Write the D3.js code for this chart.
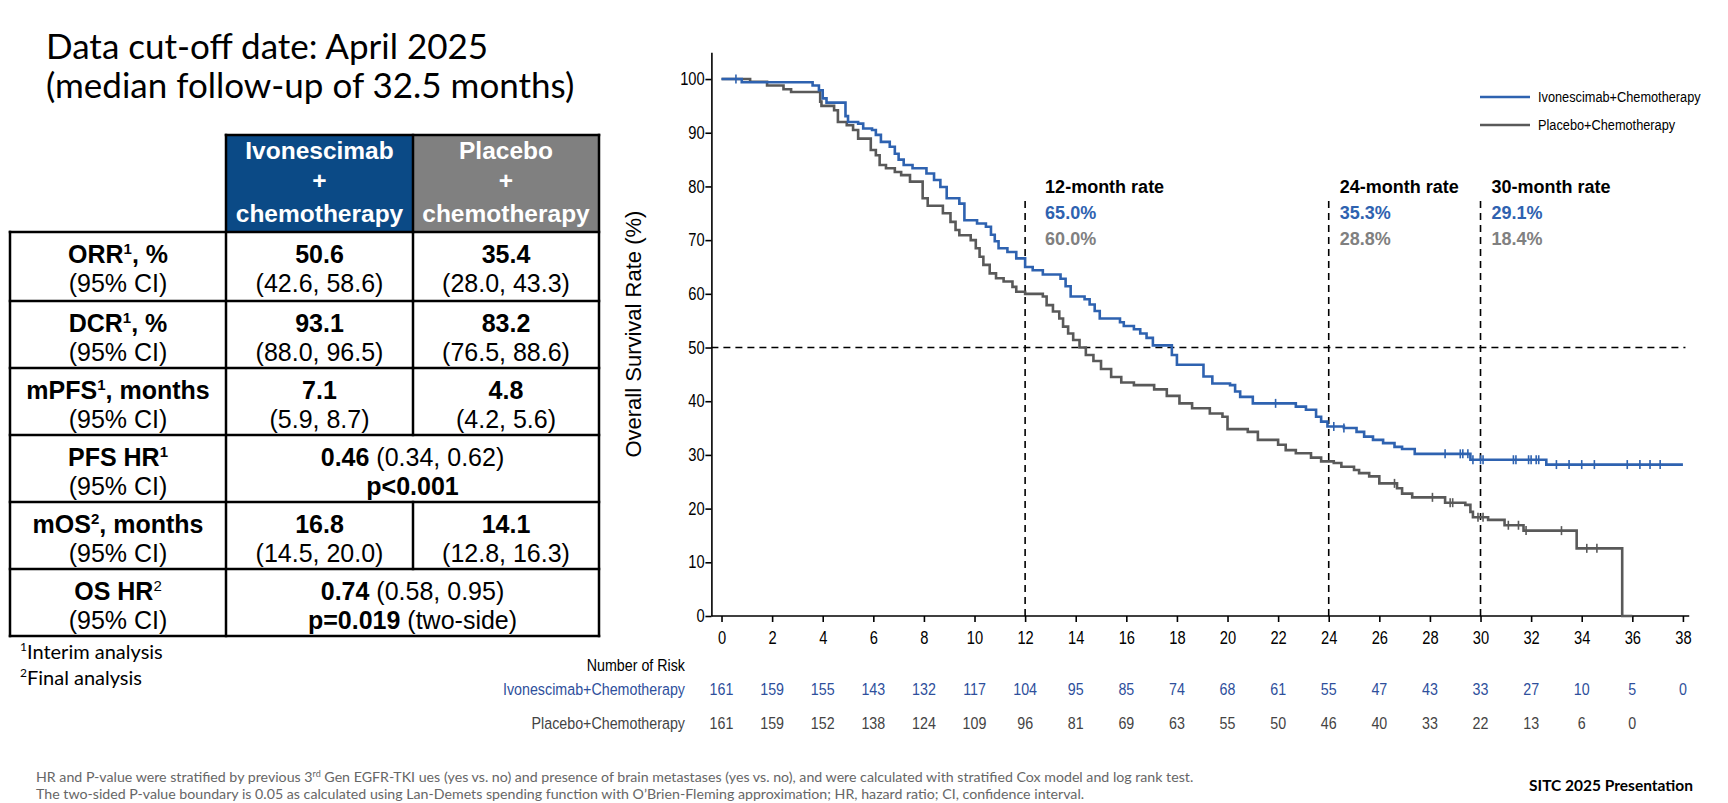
<!DOCTYPE html>
<html>
<head>
<meta charset="utf-8">
<script src="https://cdn.jsdelivr.net/npm/d3@7"></script>
<style>
body { margin: 0; background: #fff; }
svg { display: block; }
</style>
</head>
<body>
<div id="chart"></div>
<script>
// ---- DATA ----
// Kaplan-Meier steps [month, survival %]
const ivoCurve = [[0,100],[0.8,99.4],[3.6,98.8],[3.85,97.9],[4.0,96.4],[4.15,95.6],[4.9,93.1],[5.0,92.0],[5.4,91.7],[5.6,90.8],[5.95,90.5],[6.1,89.6],[6.3,88.3],[6.65,87.4],[6.85,86.1],[7.0,85.0],[7.2,84.0],[7.55,83.4],[8.1,82.4],[8.4,81.2],[8.65,79.9],[8.9,77.8],[9.4,76.8],[9.6,73.7],[10.1,73.1],[10.45,72.5],[10.65,71.0],[10.8,69.8],[10.95,68.5],[11.3,67.8],[11.65,66.6],[12.0,65.0],[12.3,64.4],[12.7,63.6],[13.4,62.8],[13.6,61.4],[13.8,59.5],[14.35,59.0],[14.55,58.0],[14.75,56.8],[14.95,55.4],[15.75,54.7],[15.9,54.0],[16.3,53.4],[16.55,52.6],[16.8,51.8],[17.05,50.4],[17.8,48.6],[18.0,46.8],[19.05,44.6],[19.4,43.3],[20.1,43.0],[20.3,41.8],[20.5,40.8],[21.0,39.6],[22.7,39.0],[23.1,38.4],[23.5,37.1],[23.7,36.2],[23.95,35.3],[24.6,35.0],[25.1,34.3],[25.4,33.4],[25.75,32.8],[26.15,32.2],[26.6,31.5],[26.9,31.1],[27.4,30.2],[29.6,29.1],[32.6,28.2],[38.0,28.2]];
const pboCurve = [[0,100],[1.13,99.5],[1.8,98.8],[2.45,98.1],[2.75,97.6],[3.9,95.8],[3.95,95.0],[4.45,94.2],[4.6,92.0],[4.95,91.4],[5.2,90.5],[5.4,88.9],[5.9,86.8],[6.1,85.8],[6.25,84.0],[6.5,83.4],[6.85,82.7],[7.1,82.1],[7.45,80.9],[7.95,77.8],[8.15,76.4],[8.75,75.0],[9.05,73.4],[9.25,71.9],[9.4,70.9],[9.85,70.0],[10.05,68.5],[10.2,66.9],[10.35,65.4],[10.6,63.8],[10.85,62.9],[11.15,62.3],[11.5,61.3],[11.65,60.4],[12.0,60.0],[12.7,59.5],[12.85,57.9],[13.1,56.7],[13.35,55.4],[13.5,53.9],[13.7,52.6],[13.9,51.4],[14.15,50.0],[14.4,48.6],[14.7,47.5],[15.0,46.0],[15.4,44.5],[15.8,43.5],[16.3,43.0],[17.1,42.2],[17.6,41.0],[18.1,39.6],[18.6,38.7],[19.3,37.7],[19.8,37.1],[20.0,34.8],[20.8,34.3],[21.2,32.8],[22.0,31.9],[22.3,30.9],[22.7,30.3],[23.3,29.5],[23.7,28.8],[24.2,28.5],[24.5,27.8],[25.0,27.2],[25.2,26.6],[25.6,26.0],[26.0,24.7],[26.7,23.8],[26.9,22.8],[27.3,22.1],[28.6,21.1],[29.4,20.7],[29.6,19.4],[29.7,18.4],[30.3,17.9],[30.95,16.9],[31.7,15.9],[33.8,12.6],[35.6,0],[36.0,0]];
const ivoCensor = [0.57,21.9,24.2,24.6,28.6,29.2,29.3,29.5,29.7,30.0,30.1,31.3,31.4,31.9,32.0,32.2,32.3,33.0,33.5,34.0,34.5,35.8,36.3,36.7,37.1];
const pboCensor = [26.6,28.1,28.8,28.9,29.9,30.1,31.1,31.5,31.8,33.2,34.2,34.6];

const xTicks = [0,2,4,6,8,10,12,14,16,18,20,22,24,26,28,30,32,34,36,38];
const yTicks = [0,10,20,30,40,50,60,70,80,90,100];
const ivoRisk = [161,159,155,143,132,117,104,95,85,74,68,61,55,47,43,33,27,10,5,0];
const pboRisk = [161,159,152,138,124,109,96,81,69,63,55,50,46,40,33,22,13,6,0];

const landmarks = [12,24,30];
const landmarkLabels = ["12-month rate","24-month rate","30-month rate"];
const ivoRates = ["65.0%","35.3%","29.1%"];
const pboRates = ["60.0%","28.8%","18.4%"];
const seriesNames = ["Ivonescimab+Chemotherapy","Placebo+Chemotherapy"];

// table: label segments [text, bold, sup]
const rowLabels = [
  [["ORR",1],["1",1,1],[", %",1]],
  [["DCR",1],["1",1,1],[", %",1]],
  [["mPFS",1],["1",1,1],[", months",1]],
  [["PFS HR",1],["1",1,1]],
  [["mOS",1],["2",1,1],[", months",1]],
  [["OS HR",1],["2",0,1]]
];
const ivoMain = ["50.6","93.1","7.1",null,"16.8",null];
const ivoCI   = ["(42.6, 58.6)","(88.0, 96.5)","(5.9, 8.7)",null,"(14.5, 20.0)",null];
const pboMain = ["35.4","83.2","4.8",null,"14.1",null];
const pboCI   = ["(28.0, 43.3)","(76.5, 88.6)","(4.2, 5.6)",null,"(12.8, 16.3)",null];
const mergedLine1 = {3: [["0.46",1],[" (0.34, 0.62)",0]], 5: [["0.74",1],[" (0.58, 0.95)",0]]};
const mergedLine2 = {3: [["p<0.001",1]], 5: [["p=0.019",1],[" (two-side)",0]]};

// ---- LAYOUT ----
const W = 1728, H = 803;
const BLUE = "#2e62b0", GREY = "#595959", GREYTXT = "#808080";
const ARIAL = "'Liberation Sans',Arial,sans-serif";
const APTOS = "Lato,'Noto Sans',sans-serif";
const NARROWX = 0.84;

const svg = d3.select("#chart").append("svg")
  .attr("width", W).attr("height", H);

// condensed text (stands in for Arial Narrow)
function narrow(g, x, y, txt, size, anchor, fill) {
  return g.append("text").attr("transform", `translate(${x},${y}) scale(${NARROWX},1)`)
    .attr("text-anchor", anchor || "start").text(txt).attr("fill", fill || "#000")
    .style("font-family", ARIAL).style("font-size", size + "px");
}

function rich(g, x, y, segs, size, anchor, fill) {
  const t = g.append("text").attr("x", x).attr("y", y)
    .attr("text-anchor", anchor || "middle")
    .style("font-family", ARIAL).style("font-size", size + "px")
    .attr("fill", fill || "#000");
  let up = false;
  segs.forEach(s => {
    const ts = t.append("tspan").text(s[0]).attr("font-weight", s[1] ? "bold" : "normal");
    if (s[2]) { ts.attr("font-size", size * 0.6).attr("dy", -size * 0.38); up = true; }
    else if (up) { ts.attr("dy", size * 0.38); up = false; }
  });
  return t;
}

// title
svg.append("text").attr("x", 46).attr("y", 59).text("Data cut-off date: April 2025")
  .style("font-family", APTOS).style("font-size", "35px");
svg.append("text").attr("x", 46).attr("y", 98).text("(median follow-up of 32.5 months)")
  .style("font-family", APTOS).style("font-size", "35px");

// ---- TABLE ----
const tb = svg.append("g");
const colX = [10, 226, 413, 599];
const rowY = [232, 301, 368, 435, 502, 569, 636];
const headTop = 135;
const FS = 25;
tb.append("rect").attr("x", colX[1]).attr("y", headTop).attr("width", colX[2]-colX[1]).attr("height", rowY[0]-headTop).attr("fill", "#0b4a86");
tb.append("rect").attr("x", colX[2]).attr("y", headTop).attr("width", colX[3]-colX[2]).attr("height", rowY[0]-headTop).attr("fill", "#808080");
[["Ivonescimab","+","chemotherapy"],["Placebo","+","chemotherapy"]].forEach((lines, i) => {
  const cx = (colX[i+1] + colX[i+2]) / 2;
  lines.forEach((l, j) => {
    tb.append("text").attr("x", cx).attr("y", [159, 189, 222][j]).text(l)
      .attr("text-anchor", "middle").attr("fill", "#fff").attr("font-weight", "bold")
      .style("font-family", ARIAL).style("font-size", "24.5px");
  });
});
const ln = (x1, y1, x2, y2) => tb.append("line").attr("x1", x1).attr("y1", y1).attr("x2", x2).attr("y2", y2)
  .attr("stroke", "#000").attr("stroke-width", 2.5).attr("stroke-linecap", "square");
ln(colX[1], headTop, colX[3], headTop);
ln(colX[1], headTop, colX[1], rowY[6]);
ln(colX[2], headTop, colX[2], rowY[0]);
ln(colX[3], headTop, colX[3], rowY[6]);
ln(colX[0], rowY[0], colX[0], rowY[6]);
rowY.forEach(yy => ln(colX[0], yy, colX[3], yy));
rowLabels.forEach((segs, i) => {
  const y0 = rowY[i];
  rich(tb, (colX[0]+colX[1])/2, y0 + 31, segs, FS);
  rich(tb, (colX[0]+colX[1])/2, y0 + 60, [["(95% CI)",0]], FS);
  if (ivoMain[i] !== null) {
    ln(colX[2], y0, colX[2], rowY[i+1]);
    rich(tb, (colX[1]+colX[2])/2, y0 + 31, [[ivoMain[i],1]], FS);
    rich(tb, (colX[1]+colX[2])/2, y0 + 60, [[ivoCI[i],0]], FS);
    rich(tb, (colX[2]+colX[3])/2, y0 + 31, [[pboMain[i],1]], FS);
    rich(tb, (colX[2]+colX[3])/2, y0 + 60, [[pboCI[i],0]], FS);
  } else {
    rich(tb, (colX[1]+colX[3])/2, y0 + 31, mergedLine1[i], FS);
    rich(tb, (colX[1]+colX[3])/2, y0 + 60, mergedLine2[i], FS);
  }
});
[["1","Interim analysis",659],["2","Final analysis",685]].forEach(f => {
  const t = svg.append("text").attr("x", 20).attr("y", f[2])
    .style("font-family", APTOS).style("font-size", "20px");
  t.append("tspan").text(f[0]).attr("font-size", 12).attr("dy", -8);
  t.append("tspan").text(f[1]).attr("dy", 8);
});

// ---- KM CHART ----
const x = d3.scaleLinear().domain([-0.4, 38.6]).range([711.4, 1698.1]);
const y = d3.scaleLinear().domain([0, 105]).range([616, 52.2]);
const g = svg.append("g");

g.append("g").attr("transform", `translate(${x(-0.4)},0)`)
  .call(d3.axisLeft(y).tickValues(yTicks).tickSize(6).tickSizeOuter(0).tickPadding(2))
  .call(a => a.selectAll("text").attr("transform", `scale(${NARROWX},1)`)
    .style("font-family", ARIAL).style("font-size", "17.5px").attr("fill", "#000"))
  .call(a => a.selectAll("line,path").attr("stroke", "#000").attr("stroke-width", 1.6));
const xAxis = g.append("g").attr("transform", `translate(0,${y(0)})`)
  .call(d3.axisBottom(x).tickValues(xTicks).tickSize(6).tickSizeOuter(0).tickPadding(10))
  .call(a => a.selectAll("text").attr("transform", `scale(${NARROWX},1)`)
    .style("font-family", ARIAL).style("font-size", "17.5px").attr("fill", "#000"))
  .call(a => a.selectAll("line,path").attr("stroke", "#000").attr("stroke-width", 1.6));
xAxis.select(".domain").attr("d", `M${x(-0.4)},0H${x(38.25)}`);

g.append("text")
  .attr("transform", `translate(641,${(y(0)+y(105))/2}) rotate(-90)`)
  .attr("text-anchor", "middle").text("Overall Survival Rate (%)")
  .style("font-family", ARIAL).style("font-size", "22px");

// reference lines
g.append("line").attr("x1", x(-0.4)).attr("x2", x(38.1)).attr("y1", y(50)).attr("y2", y(50))
  .attr("stroke", "#000").attr("stroke-width", 1.6).attr("stroke-dasharray", "7,5");
landmarks.forEach((m, i) => {
  g.append("line").attr("x1", x(m)).attr("x2", x(m)).attr("y1", y(0)).attr("y2", 196)
    .attr("stroke", "#000").attr("stroke-width", 1.6).attr("stroke-dasharray", "7,5");
  const lx = x(m) + (i === 0 ? 20 : 11);
  const tt = [[landmarkLabels[i], "#000", 193], [ivoRates[i], BLUE, 219], [pboRates[i], GREYTXT, 245]];
  tt.forEach(d => g.append("text").attr("x", lx).attr("y", d[2]).text(d[0]).attr("fill", d[1])
    .attr("font-weight", "bold").style("font-family", ARIAL).style("font-size", "18px"));
});

const line = d3.line().x(d => x(d[0])).y(d => y(d[1])).curve(d3.curveStepAfter);
const stepAt = (curve, t) => curve[d3.bisector(d => d[0]).right(curve, t) - 1][1];

[[pboCurve, pboCensor, GREY], [ivoCurve, ivoCensor, BLUE]].forEach(([curve, cens, col]) => {
  g.append("path").datum(curve).attr("d", line).attr("fill", "none")
    .attr("stroke", col).attr("stroke-width", 2.6);
  g.selectAll(null).data(cens).enter().append("line")
    .attr("x1", d => x(d)).attr("x2", d => x(d))
    .attr("y1", d => y(stepAt(curve, d)) - 4.5).attr("y2", d => y(stepAt(curve, d)) + 4.5)
    .attr("stroke", col).attr("stroke-width", 1.6);
});

// legend
[[BLUE, 97], [GREY, 125]].forEach((d, i) => {
  g.append("line").attr("x1", 1480).attr("x2", 1530).attr("y1", d[1]).attr("y2", d[1])
    .attr("stroke", d[0]).attr("stroke-width", 2.6);
  narrow(g, 1538, d[1] + 5, seriesNames[i], 15.2);
});

// number at risk
narrow(g, 685, 671, "Number of Risk", 17, "end");
[[ivoRisk, "#2e4f9c", 695], [pboRisk, "#444", 729]].forEach((d, i) => {
  narrow(g, 685, d[2], seriesNames[i], 17, "end", d[1]);
  d[0].forEach((v, j) => narrow(g, x(xTicks[j]), d[2], v, 17, "middle", d[1]));
});

// footer
const foot = svg.append("g").style("font-family", APTOS).style("font-size", "14.2px").attr("fill", "#666");
const f1 = foot.append("text").attr("x", 36).attr("y", 782);
f1.append("tspan").text("HR and P-value were stratified by previous 3");
f1.append("tspan").text("rd").attr("font-size", 9).attr("dy", -5);
f1.append("tspan").text(" Gen EGFR-TKI ues (yes vs. no) and presence of brain metastases (yes vs. no), and were calculated with stratified Cox model and log rank test.").attr("dy", 5);
foot.append("text").attr("x", 36).attr("y", 799)
  .text("The two-sided P-value boundary is 0.05 as calculated using Lan-Demets spending function with O\u2019Brien-Fleming approximation; HR, hazard ratio; CI, confidence interval.");
svg.append("text").attr("x", 1693).attr("y", 791).attr("text-anchor", "end").text("SITC 2025 Presentation")
  .attr("font-weight", "bold").style("font-family", APTOS).style("font-size", "15.5px");
</script>
</body>
</html>
